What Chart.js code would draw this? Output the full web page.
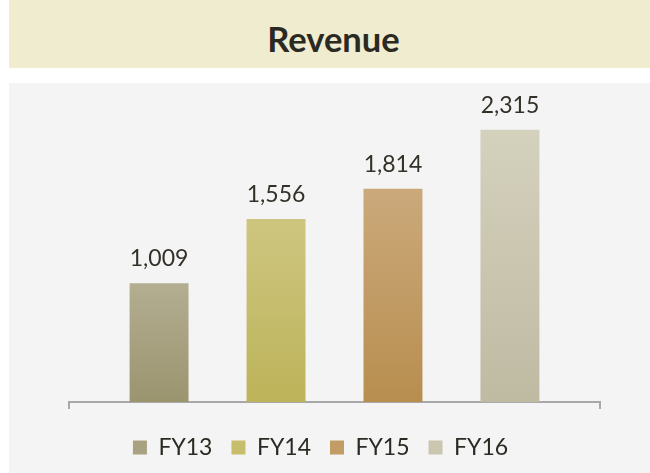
<!DOCTYPE html>
<html>
<head>
<meta charset="utf-8">
<script src="https://cdn.jsdelivr.net/npm/chart.js@4/dist/chart.umd.min.js"></script>
<style>
  html, body { margin: 0; padding: 0; background: #ffffff; }
  body { width: 650px; height: 473px; position: relative; overflow: hidden; }
  #title {
    position: absolute; left: 9px; top: 0; width: 633px; height: 68px; padding-left: 8px;
    background: #f0ecd0; color: #2b2a22;
    font-family: Lato, sans-serif; font-weight: bold; font-size: 34.5px;
    text-align: center; line-height: 78px;
  }
  #panel {
    position: absolute; left: 9px; top: 83px; width: 641px; height: 390px;
    background: #f4f4f4;
  }
  #c { display: block; }
</style>
</head>
<body>
<div id="title">Revenue</div>
<div id="panel"><canvas id="c" width="641" height="390"></canvas></div>
<script>
const categories = ["FY13", "FY14", "FY15", "FY16"];
const revenue = [1009, 1556, 1814, 2315];
const topColors = ["#b4ae92", "#cec680", "#cba97b", "#d4d1bd"];
const bottomColors = ["#9a946f", "#bdb35a", "#b88e4f", "#bfbaa2"];
const midColors = ["#a8a281", "#c6bd6d", "#c29c65", "#cac6b0"];

function gradientFor(i) {
  return function (ctx) {
    const chart = ctx.chart;
    const area = chart.chartArea;
    if (!area || !chart.scales.y) return midColors[i];
    const y = chart.scales.y;
    const top = y.getPixelForValue(revenue[i]);
    const bottom = y.getPixelForValue(0);
    const g = chart.ctx.createLinearGradient(0, top, 0, bottom);
    g.addColorStop(0, topColors[i]);
    g.addColorStop(1, bottomColors[i]);
    return g;
  };
}

const datasets = categories.map((name, i) => ({
  label: name,
  data: [revenue[i]],
  backgroundColor: gradientFor(i),
  borderWidth: 0,
  categoryPercentage: 0.881,
  barPercentage: 0.504
}));

const valueLabels = {
  id: 'valueLabels',
  afterDatasetsDraw(chart) {
    const ctx = chart.ctx;
    ctx.save();
    ctx.font = '23px Lato, sans-serif';
    ctx.fillStyle = '#333028';
    ctx.textAlign = 'center';
    ctx.textBaseline = 'alphabetic';
    chart.data.datasets.forEach((ds, i) => {
      const el = chart.getDatasetMeta(i).data[0];
      ctx.fillText(ds.data[0].toLocaleString('en-US'), el.x, el.y - 17);
    });
    ctx.restore();
  }
};

const legendShift = {
  id: 'legendShift',
  afterLayout(chart) {
    if (chart.legend) {
      chart.legend.left -= 14;
      chart.legend.right -= 14;
    }
  }
};

new Chart(document.getElementById('c'), {
  type: 'bar',
  data: { labels: [""], datasets },
  options: {
    responsive: false,
    animation: false,
    layout: { padding: { left: 60, right: 50, top: 25, bottom: 4 } },
    scales: {
      x: {
        grid: { display: true, drawOnChartArea: false, drawTicks: true, tickLength: 7, color: '#a8a8a8', lineWidth: 2 },
        border: { display: true, color: '#a8a8a8', width: 2 },
        ticks: { display: false },
        afterFit(scale) { scale.height += 8; }
      },
      y: {
        display: false,
        min: 0, max: 2500
      }
    },
    plugins: {
      legend: {
        position: 'bottom',
        labels: {
          font: { family: 'Lato, sans-serif', size: 23 },
          color: '#2b2a22',
          boxWidth: 14, boxHeight: 14,
          padding: 19,
          generateLabels(chart) {
            return chart.data.datasets.map((ds, i) => ({
              text: ds.label,
              fillStyle: midColors[i],
              strokeStyle: midColors[i],
              lineWidth: 0,
              hidden: false,
              datasetIndex: i,
              fontColor: '#2b2a22'
            }));
          }
        }
      },
      tooltip: { enabled: false },
      title: { display: false }
    }
  },
  plugins: [valueLabels, legendShift]
});
</script>
</body>
</html>
